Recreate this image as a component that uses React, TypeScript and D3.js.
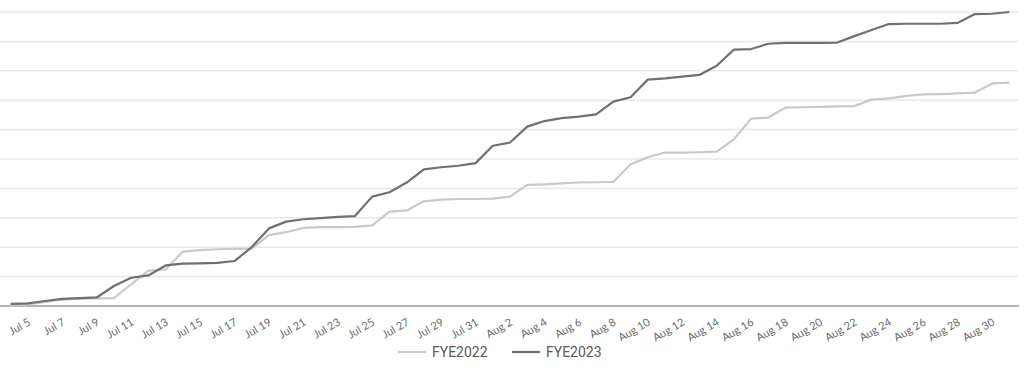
import * as d3 from "d3";

// categories: one per day, Jul 4 .. Aug 31
const days = [
  "Jul 4", "Jul 5", "Jul 6", "Jul 7", "Jul 8", "Jul 9", "Jul 10", "Jul 11", "Jul 12", "Jul 13",
  "Jul 14", "Jul 15", "Jul 16", "Jul 17", "Jul 18", "Jul 19", "Jul 20", "Jul 21", "Jul 22", "Jul 23",
  "Jul 24", "Jul 25", "Jul 26", "Jul 27", "Jul 28", "Jul 29", "Jul 30", "Jul 31", "Aug 1", "Aug 2",
  "Aug 3", "Aug 4", "Aug 5", "Aug 6", "Aug 7", "Aug 8", "Aug 9", "Aug 10", "Aug 11", "Aug 12",
  "Aug 13", "Aug 14", "Aug 15", "Aug 16", "Aug 17", "Aug 18", "Aug 19", "Aug 20", "Aug 21", "Aug 22",
  "Aug 23", "Aug 24", "Aug 25", "Aug 26", "Aug 27", "Aug 28", "Aug 29", "Aug 30", "Aug 31",
];

// every other day gets a label
const tickLabels = days.filter((_, i) => i % 2 === 1);

const fye2022 = [
  0.2, 0.5, 1.4, 2.2, 2.5, 2.6, 2.7, 7.4, 12.0, 12.4,
  18.5, 19.0, 19.3, 19.4, 19.5, 24.1, 25.1, 26.6, 26.8, 26.8,
  26.9, 27.4, 32.1, 32.5, 35.6, 36.2, 36.4, 36.4, 36.5, 37.2,
  41.2, 41.4, 41.7, 42.0, 42.1, 42.2, 48.2, 50.6, 52.2, 52.2,
  52.3, 52.5, 56.7, 63.7, 64.1, 67.5, 67.6, 67.7, 67.9, 68.0,
  70.2, 70.6, 71.5, 72.0, 72.1, 72.3, 72.6, 75.7, 76.0,
];

const fye2023 = [
  0.7, 0.9, 1.7, 2.4, 2.7, 2.9, 6.8, 9.6, 10.4, 13.8,
  14.4, 14.5, 14.7, 15.3, 20.0, 26.4, 28.7, 29.5, 29.9, 30.3,
  30.6, 37.2, 38.7, 42.0, 46.5, 47.2, 47.7, 48.6, 54.5, 55.6,
  61.0, 62.9, 63.9, 64.4, 65.2, 69.5, 71.0, 77.0, 77.4, 78.0,
  78.6, 81.7, 87.2, 87.4, 89.2, 89.5, 89.5, 89.5, 89.6, 91.8,
  93.9, 95.9, 96.0, 96.0, 96.0, 96.3, 99.3, 99.4, 100.0,
];

const yTicks = [0, 10, 20, 30, 40, 50, 60, 70, 80, 90, 100];

const series = [
  { name: "FYE2022", values: fye2022, color: "#c9c9c9" },
  { name: "FYE2023", values: fye2023, color: "#707070" },
];

const W = 1024, H = 368;
const margin = { top: 12, right: 6, bottom: 62, left: 2 };

export default function App() {
  const x = d3.scaleBand().domain(days).range([margin.left, W - margin.right]);
  const y = d3.scaleLinear().domain([0, 100]).range([H - margin.bottom, margin.top]);
  const cx = (d) => x(d) + x.bandwidth() / 2;

  const line = d3.line()
    .x((d) => cx(d[0]))
    .y((d) => y(d[1]));

  const legendItems = [
    { ...series[0], x: 398 },
    { ...series[1], x: 512 },
  ];

  return (
    <svg width={W} height={H} style={{ position: "absolute", left: 0, top: 0 }}>
      <rect width={W} height={H} fill="#ffffff" />
      {/* gridlines */}
      {yTicks.slice(1).map((t) => (
        <line key={t} x1={0} x2={W - margin.right} y1={y(t)} y2={y(t)}
          stroke="#e8e8e8" strokeWidth={1.5} />
      ))}
      {/* category axis */}
      <line x1={0} x2={W - margin.right + 1} y1={y(0)} y2={y(0)} stroke="#9c9c9c" strokeWidth={1.5} />
      {tickLabels.map((d) => (
        <text key={d} transform={`translate(${cx(d) + 2},${y(0) + 16}) rotate(-30)`}
          textAnchor="end" dominantBaseline="middle"
          fontFamily="Lato, sans-serif" fontSize={11} fill="#6a6a6a">
          {d}
        </text>
      ))}
      {/* lines */}
      {series.map((s) => (
        <path key={s.name} d={line(days.map((d, i) => [d, s.values[i]]))}
          fill="none" stroke={s.color} strokeWidth={2.2} strokeLinejoin="round" />
      ))}
      {/* legend */}
      {legendItems.map((s) => (
        <g key={s.name} transform={`translate(${s.x},352)`}>
          <line x1={0} x2={28} y1={0} y2={0} stroke={s.color} strokeWidth={2.2} />
          <text x={34} y={0} dominantBaseline="central"
            fontFamily="Roboto, sans-serif" fontSize={14} fill="#595959">
            {s.name}
          </text>
        </g>
      ))}
    </svg>
  );
}
